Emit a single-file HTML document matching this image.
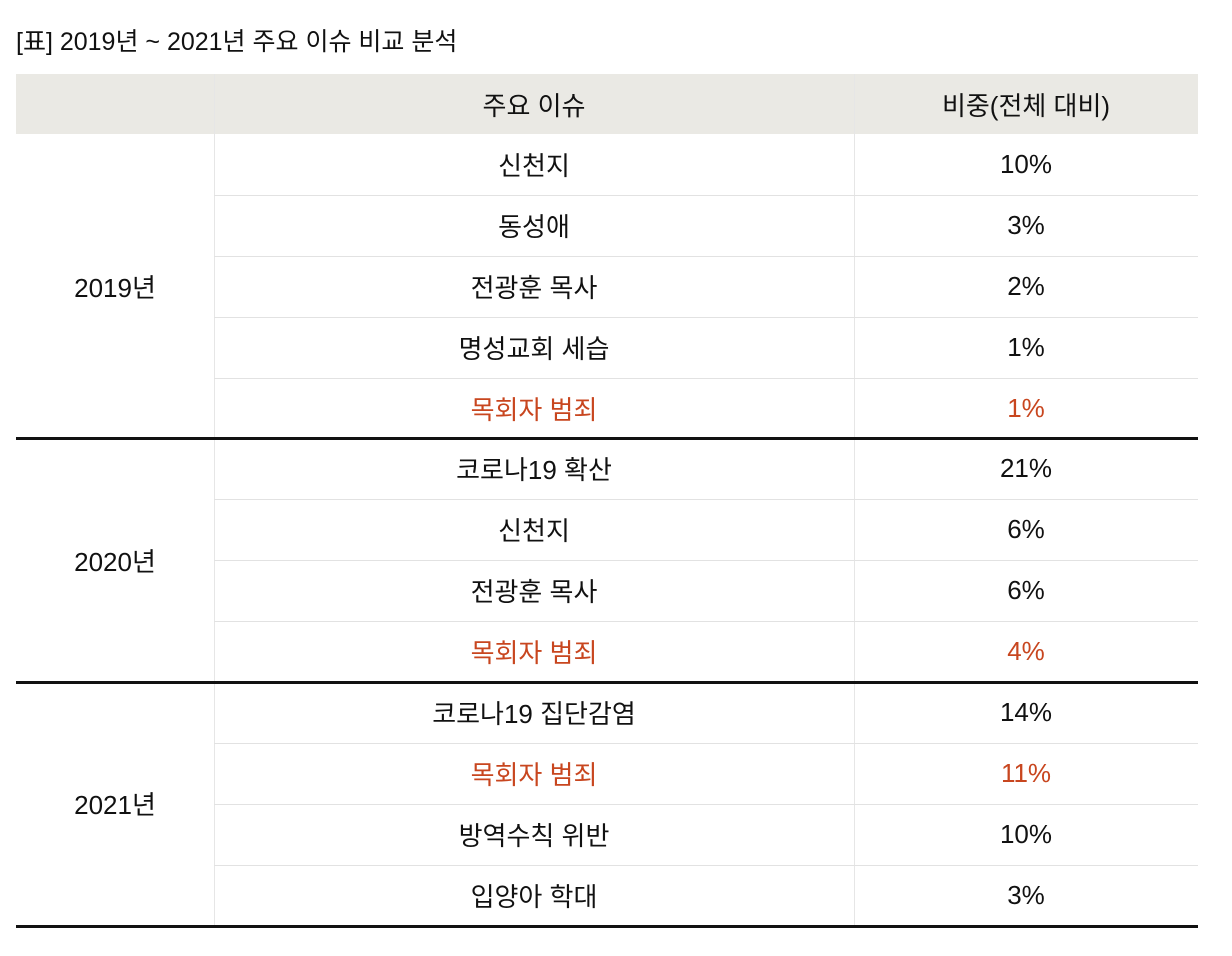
<!DOCTYPE html>
<html><head><meta charset="utf-8"><style>
body{margin:0;width:1232px;height:956px;background:#fff;font-family:"Liberation Sans","Noto Sans CJK KR",sans-serif;color:#111;position:relative;overflow:hidden}
.t{position:absolute;left:16px;top:22px;font-size:25px}
.c{position:absolute;display:flex;align-items:center;justify-content:center;font-size:26px;box-sizing:border-box}
.h{background:#eae9e4}
.red{color:#c8461f}
.ln{position:absolute;left:16px;width:1182px;background:#e2e2e2;height:1px}
.th{position:absolute;left:16px;width:1182px;background:#111;height:3px}
.vl{position:absolute;width:1px;background:#e6e6e6}
</style></head><body>
<div class="t">[표] 2019년 ~ 2021년 주요 이슈 비교 분석</div>
<div class="c h" style="left:16px;top:74px;width:1182px;height:60px"></div>
<div class="c" style="left:214px;top:74px;width:640px;height:60px">주요 이슈</div>
<div class="c" style="left:854px;top:74px;width:344px;height:60px">비중(전체 대비)</div>
<div class="vl" style="left:214px;top:74px;height:854px"></div>
<div class="vl" style="left:854px;top:74px;height:854px"></div>
<div id="rows"></div>
<script>
const years=["2019년","2020년","2021년"];
const issues=[["신천지","동성애","전광훈 목사","명성교회 세습","목회자 범죄"],["코로나19 확산","신천지","전광훈 목사","목회자 범죄"],["코로나19 집단감염","목회자 범죄","방역수칙 위반","입양아 학대"]];
const shares=[["10%","3%","2%","1%","1%"],["21%","6%","6%","4%"],["14%","11%","10%","3%"]];
const root=document.getElementById('rows');
let y=134;const rh=60.9;
years.forEach((yr,gi)=>{
  const start=y;
  issues[gi].forEach((iss,i)=>{
    const red=iss==="목회자 범죄";
    const a=document.createElement('div');a.className='c'+(red?' red':'');
    a.style.cssText=`left:214px;top:${y}px;width:640px;height:${rh}px`;a.textContent=iss;
    
    
    root.appendChild(a);
    const b=document.createElement('div');b.className='c'+(red?' red':'');
    b.style.cssText=`left:854px;top:${y}px;width:344px;height:${rh}px`;b.textContent=shares[gi][i];
    
    
    root.appendChild(b);
    y+=rh;
    if(i<issues[gi].length-1){const l=document.createElement('div');l.className='ln';l.style.top=Math.round(y)+'px';l.style.left='214px';l.style.width='984px';
      
      
      root.appendChild(l);}
  });
  const c=document.createElement('div');c.className='c';
  c.style.cssText=`left:16px;top:${start}px;width:198px;height:${y-start}px`;c.textContent=yr;
  
  
  root.appendChild(c);
  const t=document.createElement('div');t.className='th';t.style.top=Math.round(y-1)+'px';
  
  
  root.appendChild(t);
});
</script>
</body></html>
